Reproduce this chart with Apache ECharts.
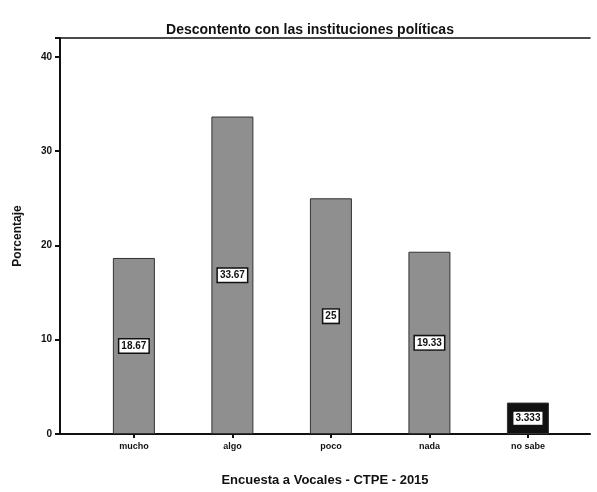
<!DOCTYPE html>
<html>
<head>
<meta charset="utf-8">
<script src="https://cdn.jsdelivr.net/npm/echarts@6/dist/echarts.min.js"></script>
<style>
  html, body { margin: 0; padding: 0; background: #fff; }
  #chart { width: 597px; height: 492px; }
</style>
</head>
<body>
<div id="chart"></div>
<script>
var categories = ['mucho', 'algo', 'poco', 'nada', 'no sabe'];
var values = [18.67, 33.67, 25, 19.33, 3.333];
var valueLabels = ['18.67', '33.67', '25', '19.33', '3.333'];
var yTicks = [0, 10, 20, 30, 40];

var chart = echarts.init(document.getElementById('chart'));

var barData = values.map(function (v, i) {
  var last = i === values.length - 1;
  return {
    value: [i, v],
    itemStyle: last ? { color: '#111' } : {}
  };
});

chart.setOption({
  animation: false,
  title: {
    text: 'Descontento con las instituciones políticas',
    left: 305,
    textAlign: 'center',
    top: 18,
    textStyle: { fontFamily: 'Liberation Sans', fontWeight: 'bold', fontSize: 14, color: '#111' }
  },
  grid: { left: 60, right: 7, top: 38, bottom: 57 },
  xAxis: [
    {
      type: 'value',
      min: -0.75,
      max: 4.63,
      name: 'Encuesta a Vocales - CTPE - 2015',
      nameLocation: 'middle',
      nameGap: 40,
      nameTextStyle: { fontFamily: 'Liberation Sans', fontWeight: 'bold', fontSize: 13, color: '#111' },
      axisLine: { onZero: false, lineStyle: { color: '#111', width: 2 } },
      axisTick: { customValues: [0, 1, 2, 3, 4], length: 4, lineStyle: { color: '#111', width: 2 } },
      axisLabel: {
        customValues: [0, 1, 2, 3, 4],
        formatter: function (v) { return categories[v]; },
        fontFamily: 'Liberation Sans', fontWeight: 'bold', fontSize: 9, color: '#111', margin: 8
      },
      splitLine: { show: false }
    },
    {
      type: 'value',
      position: 'top',
      min: -0.75,
      max: 4.63,
      axisLine: { show: true, onZero: false, lineStyle: { color: '#111', width: 1.5 } },
      axisTick: { show: false },
      axisLabel: { show: false },
      splitLine: { show: false }
    }
  ],
  yAxis: {
    type: 'value',
    min: 0,
    max: 42,
    interval: 10,
    name: 'Porcentaje',
    nameLocation: 'middle',
    nameGap: 36,
    nameTextStyle: { fontFamily: 'Liberation Sans', fontWeight: 'bold', fontSize: 12, color: '#111' },
    axisLine: { show: true, onZero: false, lineStyle: { color: '#111', width: 2 } },
    axisTick: { show: true, length: 5, lineStyle: { color: '#111', width: 2 } },
    axisLabel: {
      customValues: yTicks,
      fontFamily: 'Liberation Sans', fontWeight: 'bold', fontSize: 10, color: '#111', margin: 8
    },
    splitLine: { show: false }
  },
  series: [
    {
      type: 'bar',
      xAxisIndex: 0,
      barWidth: 42,
      data: barData,
      itemStyle: { color: '#8f8f8f', borderColor: '#333', borderWidth: 1 },
      label: {
        show: true,
        position: 'inside',
        formatter: function (p) { return valueLabels[p.dataIndex]; },
        fontFamily: 'Liberation Sans', fontWeight: 'bold', fontSize: 10, color: '#111',
        backgroundColor: '#fff', borderColor: '#111', borderWidth: 1.5, padding: [2, 2, 1, 2]
      }
    }
  ]
});
</script>
</body>
</html>
